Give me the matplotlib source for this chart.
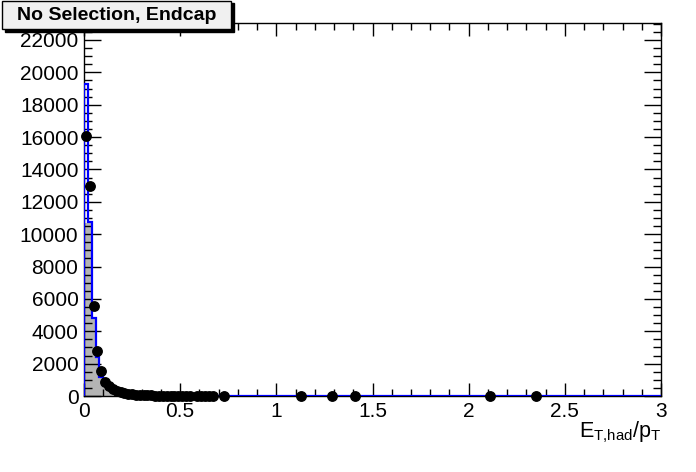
import numpy as np
import matplotlib
matplotlib.use("Agg")
import matplotlib.pyplot as plt
from matplotlib.patches import Rectangle
from matplotlib.ticker import MultipleLocator

plt.rcParams['font.family'] = ['Liberation Sans', 'DejaVu Sans']
plt.rcParams['mathtext.fontset'] = 'custom'
plt.rcParams['mathtext.rm'] = 'Liberation Sans'
plt.rcParams['mathtext.it'] = 'Liberation Sans'

# 150 bins of width 0.02 between 0 and 3
n_bins = 150
x_lo, x_hi = 0.0, 3.0

# blue histogram, first bins (rest are empty)
mc_counts = [19280, 10750, 4820, 2420, 1200, 680, 430, 290, 200, 150,
             110, 85, 65, 50, 40, 32, 25, 20, 16, 13,
             10, 8, 6, 5, 4, 3, 3, 2, 2, 1, 1, 1]
# grey filled histogram, differs only in the first bin
fill_first = 10700

# data points (bin centre, content), empty bins not drawn
data_x = [0.01, 0.03, 0.05, 0.07, 0.09, 0.11, 0.13, 0.15, 0.17, 0.19,
          0.21, 0.23, 0.25, 0.27, 0.29, 0.31, 0.33, 0.35, 0.37, 0.39,
          0.41, 0.43, 0.45, 0.47, 0.49, 0.51, 0.53, 0.55, 0.59, 0.61,
          0.63, 0.65, 0.67, 0.73, 1.13, 1.29, 1.41, 2.11, 2.35]
data_y = [16070, 12980, 5560, 2760, 1560, 880, 600, 430, 320, 240,
          180, 140, 105, 82, 64, 50, 40, 32, 26, 20,
          16, 13, 10, 8, 7, 5, 4, 3, 2, 2,
          2, 1, 1, 1, 1, 1, 1, 1, 1]

title = "No Selection, Endcap"

edges = np.linspace(x_lo, x_hi, n_bins + 1)
blue = np.zeros(n_bins)
blue[:len(mc_counts)] = mc_counts
grey = blue.copy()
grey[0] = fill_first

fig = plt.figure(figsize=(6.96, 4.72), dpi=100)
ax = fig.add_axes([84/696, 76/472, 577/696, 373/472])

ax.stairs(grey, edges, fill=True, color='#b4b4b4', zorder=1)
ax.stairs(blue, edges, color='#0000ff', lw=1.6, zorder=3)
ax.plot(data_x, data_y, 'o', color='black', ms=6.8, zorder=4, clip_on=False)

ax.set_xlim(x_lo, x_hi)
ax.set_ylim(0, 23050)
ax.xaxis.set_major_locator(MultipleLocator(0.5))
ax.xaxis.set_minor_locator(MultipleLocator(0.1))
ax.yaxis.set_major_locator(MultipleLocator(2000))
ax.yaxis.set_minor_locator(MultipleLocator(500))
ax.xaxis.set_major_formatter(plt.FuncFormatter(lambda v, p: f"{v:g}"))

ax.tick_params(which='both', direction='in', top=True, right=True, labelsize=15, width=1)
ax.tick_params(axis='y', which='major', length=12, pad=4)
ax.tick_params(axis='y', which='minor', length=5.8)
ax.tick_params(axis='x', which='major', length=9.4, pad=4)
ax.tick_params(axis='x', which='minor', length=4.7)
for s in ax.spines.values():
    s.set_linewidth(1)

ax.text(1.0, -0.11, r'$E_{\mathrm{T{,}had}}/p_{\mathrm{T}}$', transform=ax.transAxes,
        ha='right', va='baseline', fontsize=15.5)

# ROOT-style title box with shadow
W, H = 696, 472
fig.patches.append(Rectangle((5/W, 1 - 32/H), 229/W, 29/H, transform=fig.transFigure,
                             facecolor='black', edgecolor='black', lw=1, zorder=5))
fig.patches.append(Rectangle((2/W, 1 - 29/H), 229/W, 28/H, transform=fig.transFigure,
                             facecolor='#f0f0f0', edgecolor='black', lw=1, zorder=6))
fig.text(117/W, 1 - 15/H, title, ha='center', va='center', fontsize=14,
         fontweight='bold', zorder=7)

fig.savefig('out.png', dpi=100)
